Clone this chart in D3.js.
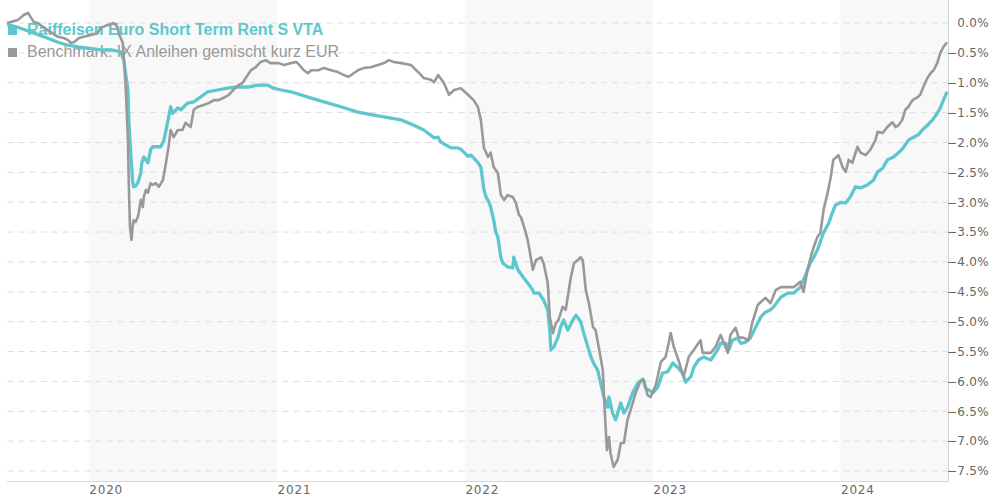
<!DOCTYPE html>
<html>
<head>
<meta charset="utf-8">
<script src="https://cdn.jsdelivr.net/npm/d3@7"></script>
<style>
  html, body { margin: 0; padding: 0; background: #fff; }
  svg { display: block; }
</style>
</head>
<body>
<svg id="chart" width="990" height="500"></svg>
<script>
// Cumulative performance in %, fund vs. benchmark
const fund = [
  ["2019-07-26",-0.03],["2019-08-16",-0.08],["2019-09-10",-0.16],["2019-10-06",-0.24],["2019-11-02",-0.33],
  ["2019-11-21",-0.38],["2019-12-11",-0.41],["2019-12-30",-0.43],["2020-01-24",-0.46],["2020-02-13",-0.46],
  ["2020-02-26",-0.48],["2020-03-03",-0.49],["2020-03-09",-0.63],["2020-03-17",-1.13],["2020-03-19",-1.68],
  ["2020-03-23",-2.25],["2020-03-26",-2.64],["2020-03-28",-2.75],["2020-04-01",-2.74],["2020-04-05",-2.69],
  ["2020-04-11",-2.52],["2020-04-13",-2.35],["2020-04-17",-2.25],["2020-04-25",-2.35],["2020-04-30",-2.13],
  ["2020-05-04",-2.08],["2020-05-14",-2.08],["2020-05-20",-2.08],["2020-05-26",-1.97],["2020-06-02",-1.68],
  ["2020-06-08",-1.41],["2020-06-12",-1.52],["2020-06-22",-1.43],["2020-06-28",-1.46],["2020-07-11",-1.35],
  ["2020-07-23",-1.33],["2020-08-05",-1.25],["2020-08-19",-1.16],["2020-09-07",-1.13],["2020-09-27",-1.10],
  ["2020-10-16",-1.08],["2020-11-05",-1.08],["2020-11-24",-1.05],["2020-12-06",-1.05],["2020-12-14",-1.05],
  ["2020-12-25",-1.10],["2021-01-09",-1.13],["2021-01-28",-1.16],["2021-03-02",-1.25],["2021-04-02",-1.33],
  ["2021-05-05",-1.41],["2021-06-07",-1.50],["2021-07-08",-1.55],["2021-08-10",-1.60],["2021-08-30",-1.63],
  ["2021-09-24",-1.72],["2021-10-13",-1.80],["2021-11-02",-1.93],["2021-11-10",-1.92],["2021-11-15",-2.00],
  ["2021-12-05",-2.10],["2021-12-18",-2.10],["2021-12-24",-2.12],["2022-01-07",-2.24],["2022-01-13",-2.22],
  ["2022-01-26",-2.34],["2022-02-01",-2.42],["2022-02-07",-2.80],["2022-02-11",-2.92],["2022-02-17",-3.01],
  ["2022-02-20",-3.09],["2022-02-26",-3.31],["2022-03-02",-3.51],["2022-03-06",-3.59],["2022-03-12",-3.94],
  ["2022-03-16",-4.03],["2022-03-25",-4.09],["2022-04-04",-4.11],["2022-04-06",-3.93],["2022-04-14",-4.14],
  ["2022-04-24",-4.26],["2022-05-03",-4.36],["2022-05-13",-4.48],["2022-05-15",-4.53],["2022-05-25",-4.53],
  ["2022-06-03",-4.65],["2022-06-11",-4.81],["2022-06-15",-5.15],["2022-06-17",-5.48],["2022-06-23",-5.43],
  ["2022-07-01",-5.27],["2022-07-06",-5.10],["2022-07-12",-4.98],["2022-07-20",-5.15],["2022-07-30",-4.98],
  ["2022-08-05",-4.90],["2022-08-14",-5.01],["2022-08-20",-5.20],["2022-08-28",-5.43],["2022-09-03",-5.60],
  ["2022-09-08",-5.70],["2022-09-16",-5.82],["2022-09-22",-6.04],["2022-09-28",-6.27],["2022-10-06",-6.44],
  ["2022-10-08",-6.27],["2022-10-15",-6.54],["2022-10-21",-6.65],["2022-10-31",-6.37],["2022-11-06",-6.54],
  ["2022-11-13",-6.44],["2022-11-23",-6.20],["2022-12-03",-6.04],["2022-12-13",-5.97],["2022-12-18",-6.12],
  ["2022-12-24",-6.15],["2023-01-02",-6.20],["2023-01-11",-6.10],["2023-01-20",-5.87],["2023-01-30",-5.85],
  ["2023-02-09",-5.70],["2023-02-19",-5.78],["2023-02-28",-5.87],["2023-03-06",-6.02],["2023-03-16",-5.93],
  ["2023-03-22",-5.77],["2023-03-31",-5.65],["2023-04-10",-5.60],["2023-04-24",-5.65],["2023-05-07",-5.48],
  ["2023-05-13",-5.37],["2023-05-23",-5.37],["2023-05-29",-5.48],["2023-06-05",-5.32],["2023-06-15",-5.28],
  ["2023-06-21",-5.37],["2023-07-01",-5.35],["2023-07-10",-5.28],["2023-07-20",-5.10],["2023-07-30",-4.93],
  ["2023-08-08",-4.85],["2023-08-18",-4.81],["2023-08-24",-4.76],["2023-09-07",-4.60],["2023-09-20",-4.53],
  ["2023-10-02",-4.53],["2023-10-15",-4.43],["2023-10-21",-4.31],["2023-10-29",-4.14],["2023-11-04",-4.01],
  ["2023-11-10",-3.93],["2023-11-17",-3.81],["2023-11-29",-3.52],["2023-12-09",-3.36],["2023-12-16",-3.19],
  ["2023-12-22",-3.06],["2024-01-02",-3.01],["2024-01-11",-3.02],["2024-01-20",-2.92],["2024-01-30",-2.75],
  ["2024-02-09",-2.77],["2024-02-22",-2.72],["2024-03-05",-2.64],["2024-03-13",-2.50],["2024-03-23",-2.44],
  ["2024-04-01",-2.30],["2024-04-13",-2.25],["2024-04-23",-2.18],["2024-05-02",-2.10],["2024-05-12",-1.97],
  ["2024-05-22",-1.92],["2024-05-31",-1.88],["2024-06-08",-1.80],["2024-06-18",-1.72],["2024-06-28",-1.63],
  ["2024-07-07",-1.52],["2024-07-13",-1.43],["2024-07-19",-1.30],["2024-07-26",-1.16]
];

const benchmark = [
  ["2019-07-26",-0.01],["2019-08-16",0.04],["2019-08-28",0.13],["2019-09-05",0.16],["2019-09-10",0.09],
  ["2019-09-16",0.01],["2019-09-24",-0.01],["2019-10-06",-0.09],["2019-10-19",-0.16],["2019-11-02",-0.24],
  ["2019-11-13",-0.26],["2019-11-21",-0.29],["2019-11-27",-0.34],["2019-12-03",-0.33],["2019-12-13",-0.26],
  ["2019-12-22",-0.24],["2020-01-05",-0.21],["2020-01-18",-0.18],["2020-01-24",-0.09],["2020-02-07",-0.04],
  ["2020-02-19",-0.01],["2020-02-26",-0.08],["2020-02-28",-0.18],["2020-03-03",-0.26],["2020-03-07",-0.34],
  ["2020-03-09",-0.58],["2020-03-13",-1.13],["2020-03-17",-1.97],["2020-03-19",-2.80],["2020-03-21",-3.42],
  ["2020-03-24",-3.64],["2020-03-26",-3.42],["2020-03-28",-3.31],["2020-04-01",-3.34],["2020-04-05",-3.26],
  ["2020-04-07",-3.19],["2020-04-11",-2.97],["2020-04-15",-3.09],["2020-04-17",-2.92],["2020-04-21",-2.80],
  ["2020-04-25",-2.85],["2020-04-30",-2.69],["2020-05-04",-2.72],["2020-05-10",-2.69],["2020-05-16",-2.75],
  ["2020-05-24",-2.64],["2020-05-30",-2.35],["2020-06-04",-2.08],["2020-06-08",-1.80],["2020-06-14",-1.92],
  ["2020-06-22",-1.80],["2020-07-01",-1.80],["2020-07-07",-1.68],["2020-07-17",-1.75],["2020-07-23",-1.46],
  ["2020-07-31",-1.41],["2020-08-11",-1.38],["2020-08-21",-1.35],["2020-08-31",-1.30],["2020-09-09",-1.30],
  ["2020-09-19",-1.26],["2020-09-29",-1.21],["2020-10-09",-1.12],["2020-10-16",-1.06],["2020-10-26",-1.01],
  ["2020-11-05",-0.88],["2020-11-11",-0.80],["2020-11-20",-0.75],["2020-11-30",-0.66],["2020-12-10",-0.63],
  ["2020-12-19",-0.68],["2021-01-04",-0.68],["2021-01-15",-0.71],["2021-01-28",-0.68],["2021-02-07",-0.66],
  ["2021-02-13",-0.71],["2021-02-22",-0.80],["2021-03-02",-0.85],["2021-03-08",-0.80],["2021-03-22",-0.80],
  ["2021-04-02",-0.76],["2021-04-16",-0.80],["2021-04-29",-0.83],["2021-05-11",-0.88],["2021-05-19",-0.91],
  ["2021-05-25",-0.88],["2021-06-07",-0.80],["2021-06-19",-0.76],["2021-07-02",-0.75],["2021-07-16",-0.71],
  ["2021-07-28",-0.68],["2021-08-06",-0.63],["2021-08-16",-0.66],["2021-08-30",-0.68],["2021-09-18",-0.71],
  ["2021-10-08",-0.88],["2021-10-13",-0.93],["2021-10-27",-0.96],["2021-11-02",-1.00],["2021-11-10",-0.88],
  ["2021-11-21",-1.01],["2021-12-01",-1.21],["2021-12-11",-1.13],["2021-12-24",-1.10],["2022-01-07",-1.21],
  ["2022-01-18",-1.30],["2022-01-26",-1.41],["2022-02-01",-1.63],["2022-02-07",-2.10],["2022-02-15",-2.25],
  ["2022-02-20",-2.18],["2022-02-26",-2.42],["2022-03-06",-2.52],["2022-03-12",-2.89],["2022-03-18",-2.97],
  ["2022-03-25",-2.89],["2022-04-04",-2.92],["2022-04-10",-3.02],["2022-04-16",-3.22],["2022-04-20",-3.26],
  ["2022-04-26",-3.42],["2022-05-03",-3.64],["2022-05-09",-3.93],["2022-05-13",-4.14],["2022-05-19",-3.98],
  ["2022-05-29",-3.93],["2022-06-03",-4.03],["2022-06-11",-4.36],["2022-06-15",-4.93],["2022-06-21",-5.20],
  ["2022-06-27",-5.03],["2022-07-02",-4.98],["2022-07-10",-4.76],["2022-07-16",-4.81],["2022-07-26",-4.26],
  ["2022-08-01",-4.03],["2022-08-08",-3.98],["2022-08-14",-3.93],["2022-08-18",-3.98],["2022-08-24",-4.48],
  ["2022-08-30",-4.70],["2022-09-07",-5.10],["2022-09-12",-5.15],["2022-09-18",-5.43],["2022-09-26",-5.82],
  ["2022-09-30",-6.54],["2022-10-04",-7.16],["2022-10-08",-6.94],["2022-10-11",-7.21],["2022-10-17",-7.44],
  ["2022-10-25",-7.32],["2022-10-31",-7.04],["2022-11-06",-7.04],["2022-11-13",-6.65],["2022-11-19",-6.49],
  ["2022-11-29",-6.20],["2022-12-09",-5.99],["2022-12-15",-5.99],["2022-12-22",-6.24],["2022-12-28",-6.27],
  ["2023-01-07",-6.07],["2023-01-17",-5.68],["2023-01-26",-5.60],["2023-02-01",-5.37],["2023-02-05",-5.20],
  ["2023-02-11",-5.43],["2023-02-20",-5.65],["2023-03-02",-5.93],["2023-03-12",-5.60],["2023-03-22",-5.48],
  ["2023-04-04",-5.32],["2023-04-08",-5.53],["2023-04-14",-5.53],["2023-04-24",-5.53],["2023-05-03",-5.43],
  ["2023-05-13",-5.23],["2023-05-27",-5.53],["2023-06-01",-5.23],["2023-06-11",-5.11],["2023-06-17",-5.27],
  ["2023-06-27",-5.28],["2023-07-06",-5.32],["2023-07-14",-5.01],["2023-07-24",-4.73],["2023-08-03",-4.65],
  ["2023-08-08",-4.61],["2023-08-18",-4.70],["2023-08-28",-4.48],["2023-09-07",-4.43],["2023-09-20",-4.43],
  ["2023-10-02",-4.43],["2023-10-15",-4.34],["2023-10-21",-4.51],["2023-10-29",-4.14],["2023-11-04",-3.93],
  ["2023-11-08",-3.81],["2023-11-17",-3.59],["2023-11-23",-3.52],["2023-11-29",-3.14],["2023-12-07",-2.85],
  ["2023-12-13",-2.59],["2023-12-18",-2.30],["2023-12-28",-2.22],["2024-01-05",-2.42],["2024-01-11",-2.50],
  ["2024-01-17",-2.30],["2024-01-24",-2.35],["2024-02-03",-2.08],["2024-02-09",-2.18],["2024-02-19",-2.22],
  ["2024-02-28",-2.13],["2024-03-09",-1.97],["2024-03-13",-1.83],["2024-03-23",-1.85],["2024-04-01",-1.75],
  ["2024-04-11",-1.67],["2024-04-17",-1.75],["2024-04-23",-1.72],["2024-04-30",-1.63],["2024-05-06",-1.46],
  ["2024-05-12",-1.41],["2024-05-20",-1.30],["2024-05-30",-1.25],["2024-06-04",-1.21],["2024-06-10",-1.08],
  ["2024-06-18",-0.93],["2024-06-24",-0.85],["2024-06-30",-0.80],["2024-07-07",-0.68],["2024-07-13",-0.51],
  ["2024-07-19",-0.41],["2024-07-26",-0.33]
];

const yTicks = [0, -0.5, -1, -1.5, -2, -2.5, -3, -3.5, -4, -4.5, -5, -5.5, -6, -6.5, -7, -7.5];
const yearTicks = ["2020-01-01", "2021-01-01", "2022-01-01", "2023-01-01", "2024-01-01"];
const shadedYears = [2020, 2022, 2024];
const seriesNames = ["Raiffeisen Euro Short Term Rent S VTA", "Benchmark: IX Anleihen gemischt kurz EUR"];
const seriesColors = ["#5ec7cd", "#999999"];

const parse = d3.utcParse("%Y-%m-%d");
const fundData = fund.map(([d, v]) => ({ date: parse(d), value: v }));
const benchData = benchmark.map(([d, v]) => ({ date: parse(d), value: v }));

const plot = { left: 7, right: 947, top: 0, bottom: 481 };
const svg = d3.select("#chart");

const x = d3.scaleUtc()
  .domain(d3.extent(fundData.concat(benchData), d => d.date))
  .range([plot.left, plot.right]);

const y = d3.scaleLinear()
  .domain([-7.5, 0])
  .range([470.5, 22.5]);

// alternating year bands
svg.append("g").selectAll("rect")
  .data(shadedYears)
  .join("rect")
  .attr("x", yr => x(Date.UTC(yr, 0, 1)))
  .attr("y", plot.top)
  .attr("width", yr => Math.min(x(Date.UTC(yr + 1, 0, 1)), plot.right + 1.5) - x(Date.UTC(yr, 0, 1)))
  .attr("height", plot.bottom - plot.top)
  .attr("fill", "#f8f8f8");

// dashed horizontal grid
const grid = svg.append("g")
  .attr("transform", `translate(${plot.right + 1.5},0)`)
  .call(d3.axisLeft(y).tickValues(yTicks).tickSize(plot.right + 1.5 - plot.left).tickFormat(""));
grid.select(".domain").remove();
grid.selectAll(".tick line")
  .attr("stroke", "#dddddd")
  .attr("stroke-width", 1)
  .attr("stroke-dasharray", "6,5");

// frame: right and bottom edges
svg.append("line")
  .attr("x1", plot.right + 1.5).attr("x2", plot.right + 1.5)
  .attr("y1", plot.top).attr("y2", plot.bottom)
  .attr("stroke", "#d0d0d0");
svg.append("line")
  .attr("x1", plot.left).attr("x2", plot.right + 1.5)
  .attr("y1", plot.bottom + 0.5).attr("y2", plot.bottom + 0.5)
  .attr("stroke", "#d8d8d8");

// y axis labels on the right
const yAxis = svg.append("g")
  .attr("transform", "translate(989,0)")
  .call(d3.axisRight(y).tickValues(yTicks).tickSize(0).tickPadding(0)
    .tickFormat(d => d3.format(".1f")(d) + "%"));
yAxis.select(".domain").remove();
yAxis.selectAll("text")
  .attr("text-anchor", "end")
  .attr("x", 0)
  .attr("dy", "0.36em")
  .attr("fill", "#666")
  .style("font-family", "'DejaVu Sans', Verdana, sans-serif")
  .style("font-size", "12px")
  .style("letter-spacing", "0.3px");

// x axis year labels
const xAxis = svg.append("g")
  .attr("transform", `translate(0,${plot.bottom})`)
  .call(d3.axisBottom(x).tickValues(yearTicks.map(parse)).tickSize(0)
    .tickFormat(d3.utcFormat("%Y")));
xAxis.select(".domain").remove();
xAxis.selectAll("text")
  .attr("text-anchor", "start")
  .attr("x", 0)
  .attr("y", 13)
  .attr("dy", 0)
  .attr("fill", "#666")
  .style("font-family", "'DejaVu Sans', Verdana, sans-serif")
  .style("font-size", "12px")
  .style("letter-spacing", "0.8px");

// legend
const legend = svg.append("g");
const legendRows = [
  { name: seriesNames[0], color: seriesColors[0], weight: "bold", textColor: seriesColors[0], y: 35 },
  { name: seriesNames[1], color: seriesColors[1], weight: "normal", textColor: "#999999", y: 57 }
];
legendRows.forEach(r => {
  legend.append("rect")
    .attr("x", 8).attr("y", r.y - 9)
    .attr("width", 9).attr("height", 9)
    .attr("fill", r.color);
  legend.append("text")
    .attr("x", 27).attr("y", r.y)
    .attr("fill", r.textColor)
    .style("font-family", "'Liberation Sans', Arial, sans-serif")
    .style("font-size", "16px")
    .style("font-weight", r.weight)
    .text(r.name);
});

// series lines
const line = d3.line()
  .x(d => x(d.date))
  .y(d => y(d.value));

svg.append("path")
  .datum(fundData)
  .attr("d", line)
  .attr("fill", "none")
  .attr("stroke", seriesColors[0])
  .attr("stroke-width", 3.3)
  .attr("stroke-linejoin", "round");

svg.append("path")
  .datum(benchData)
  .attr("d", line)
  .attr("fill", "none")
  .attr("stroke", seriesColors[1])
  .attr("stroke-width", 2.6)
  .attr("stroke-linejoin", "round");
</script>
</body>
</html>
